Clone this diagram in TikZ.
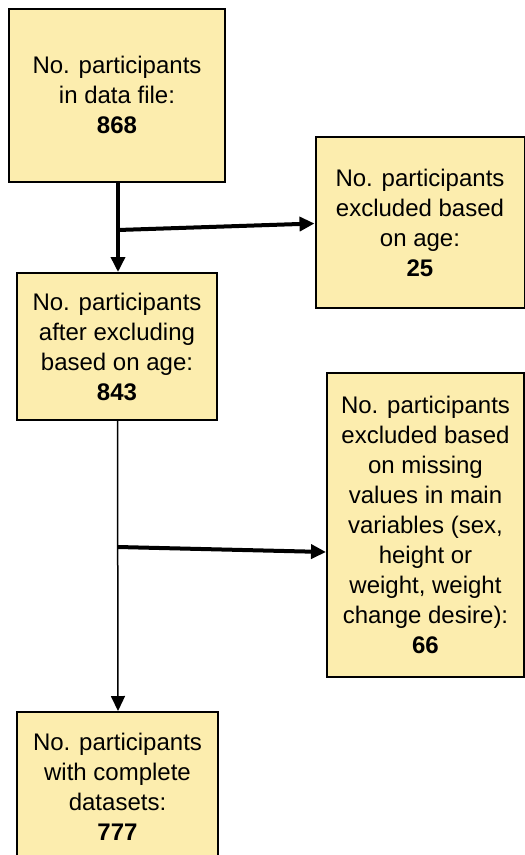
\documentclass[tikz,border=0pt]{standalone}
\usepackage{fontspec}
\setmainfont{Liberation Sans}
\usepackage{xcolor}
\usetikzlibrary{arrows.meta}

\definecolor{boxfill}{RGB}{252,237,174}

\tikzset{
  countbox/.style={draw, line width=2, fill=boxfill, inner sep=0, align=center,
    font=\fontsize{24}{30}\selectfont},
  flowarrow/.style={-{Triangle[length=15,width=14]}},
}

\begin{document}
\begin{tikzpicture}[x=1pt,y=1pt,yscale=-1,xscale=1]
\useasboundingbox (0,0) rectangle (525,855);

% Text Node
\node[countbox, minimum width=216, minimum height=173] (total) at (117,95)
  {No. participants\\in data file:\\\textbf{868}};
% Text Node
\node[countbox, minimum width=209, minimum height=171] (agex) at (420,222.5)
  {No. participants\\excluded based\\on age:\\\textbf{25}};
% Text Node
\node[countbox, minimum width=200, minimum height=147] (afterage) at (117,346.5)
  {No. participants\\after excluding\\based on age:\\\textbf{843}};
% Text Node
\node[countbox, minimum width=197, minimum height=304] (missx) at (425.5,525)
  {No. participants\\excluded based\\on missing\\values in main\\variables (sex,\\height or\\weight, weight\\change desire):\\\textbf{66}};
% Text Node
\node[countbox, minimum width=201, minimum height=150] (complete) at (117.5,787)
  {No. participants\\with complete\\datasets:\\\textbf{777}};

% branch points
\coordinate (br1) at (118,230);
\coordinate (br2) at (118,547);

%Straight Lines
\draw[flowarrow, line width=3.5] ([xshift=1]total.south) -- ([xshift=1]afterage.north);
\draw[flowarrow, line width=4] (br1) -- ([yshift=1]agex.west);
%Straight Lines
\draw[flowarrow, line width=1.5] ([xshift=0.5]afterage.south) -- ([xshift=0.5]complete.north);
\draw[flowarrow, line width=4] (br2) -- ([yshift=27]missx.west);

\end{tikzpicture}
\end{document}
